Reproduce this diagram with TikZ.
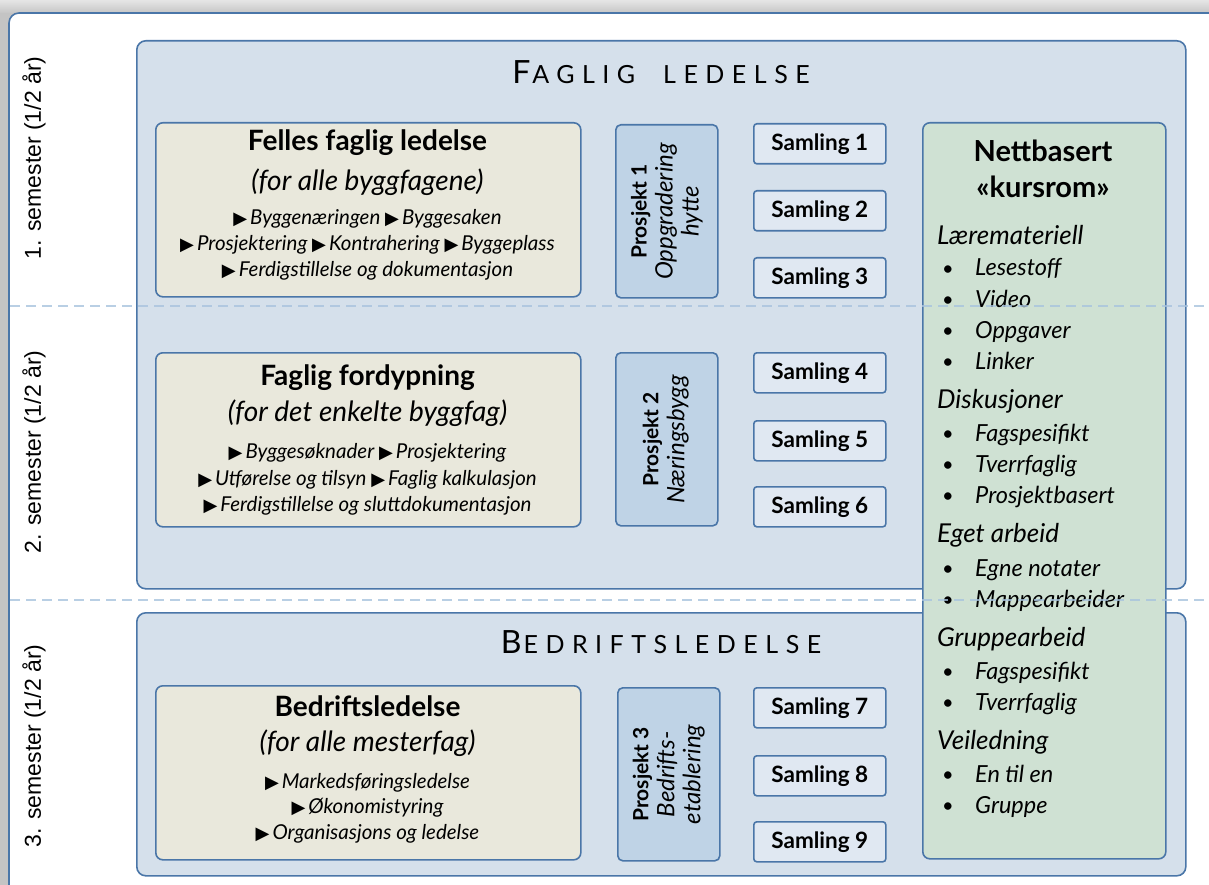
\documentclass[tikz,border=0pt]{standalone}
\usepackage{fontspec}
\setmainfont{Lato}
\newfontfamily\semfont{Liberation Sans}
\newfontfamily\symfont{DejaVu Sans}
\definecolor{bordblue}{HTML}{4A76A8}
\definecolor{bigfill}{HTML}{D5E0EB}
\definecolor{beigefill}{HTML}{E9E8DC}
\definecolor{projfill}{HTML}{BFD3E6}
\definecolor{samfill}{HTML}{E0E8F2}
\definecolor{netfill}{HTML}{CFE1D3}
\definecolor{dashblue}{HTML}{A8C3DE}
\definecolor{shadowgray}{HTML}{C4C4C4}
\newcommand\mytri{{\symfont\fontsize{18}{18}\selectfont ▶}\hspace{3pt}}
\newcommand\fsz[1]{\fontsize{#1}{#1}\selectfont}
\tikzset{
  box/.style={draw=bordblue, line width=1.6pt, inner sep=0pt, anchor=north west},
  bigbox/.style={box, fill=bigfill, rounded corners=9pt},
  beigebox/.style={box, fill=beigefill, rounded corners=7pt, minimum width=425pt, minimum height=174pt},
  projbox/.style={box, fill=projfill, rounded corners=5pt, minimum width=102pt, minimum height=173pt},
  sambox/.style={box, fill=samfill, rounded corners=3pt, minimum width=132pt, minimum height=40pt},
  netbox/.style={box, fill=netfill, rounded corners=7pt},
  semlabel/.style={rotate=90, font=\semfont\fsz{23}},
  btitle/.style={font=\bfseries\fsz{28}},
  bsub/.style={font=\itshape\fsz{28}},
  bitem/.style={font=\itshape\fsz{20.5}},
  samtext/.style={font=\bfseries\fsz{22.5}},
  projtext/.style={rotate=90, align=center, font=\fontsize{24}{26}\selectfont},
  nethead/.style={anchor=west, inner sep=0pt, font=\itshape\fsz{26}, text height=18pt, text depth=5pt},
  netitem/.style={anchor=west, inner sep=0pt, font=\itshape\fsz{23.5}, text height=17pt, text depth=5pt},
  netbul/.style={font=\fsz{20}, text height=14pt, text depth=4pt},
  sectitle/.style={font=\fsz{25}},
}
\begin{document}
\begin{tikzpicture}[x=1pt,y=-1pt]
\useasboundingbox (0,0) rectangle (1209,885);
% background shadow
\fill[shadowgray] (0,0) rectangle (1209,885);
\shade[top color=gray!20, bottom color=gray!45] (0,0) rectangle (1209,13);
\draw[bordblue, line width=1.6pt, fill=white, rounded corners=10pt] (9,13) rectangle (1240,920);

% semester labels
\node[semlabel] (sem1) at (34,158) {1. semester (1/2 år)};
\node[semlabel] (sem2) at (34,452) {2. semester (1/2 år)};
\node[semlabel] (sem3) at (34,746) {3. semester (1/2 år)};

% big section boxes
\node[bigbox, minimum width=1049pt, minimum height=548pt] (faglig) at (136,40) {};
\node[bigbox, minimum width=1049pt, minimum height=263pt] (bedrift) at (136,612) {};
\node[sectitle] (fagligtitle) at (661,72) {\addfontfeatures{LetterSpace=30}{\fsz{32}F}\hspace{2pt}AGLIG\hspace{14pt} LEDELSE};
\node[sectitle] (bedrifttitle) at (661,642) {\addfontfeatures{LetterSpace=30}{\fsz{32}B}\hspace{2pt}EDRIFTSLEDELSE};

% beige boxes
\node[beigebox] (felles) at (155,122) {};
\node[btitle] (fellest) at (367.5,143) {Felles faglig ledelse};
\node[bsub] (felless) at (367.5,182) {(for alle byggfagene)};
\node[bitem] (fellesi1) at (367.5,219) {\mytri Byggenæringen \mytri Byggesaken};
\node[bitem] (fellesi2) at (367.5,245) {\mytri Prosjektering \mytri Kontrahering \mytri Byggeplass};
\node[bitem] (fellesi3) at (367.5,271) {\mytri Ferdigstillelse og dokumentasjon};

\node[beigebox] (ford) at (155,352) {};
\node[btitle] (fordt) at (367.5,378) {Faglig fordypning};
\node[bsub] (fords) at (367.5,413) {(for det enkelte byggfag)};
\node[bitem] (fordi1) at (367.5,453) {\mytri Byggesøknader \mytri Prosjektering};
\node[bitem] (fordi2) at (367.5,480) {\mytri Utførelse og tilsyn \mytri Faglig kalkulasjon};
\node[bitem] (fordi3) at (367.5,506) {\mytri Ferdigstillelse og sluttdokumentasjon};

\node[beigebox] (bedr) at (155,685) {};
\node[btitle] (bedrt) at (367.5,706) {Bedriftsledelse};
\node[bsub] (bedrs) at (367.5,743) {(for alle mesterfag)};
\node[bitem] (bedri1) at (367.5,783) {\mytri Markedsføringsledelse};
\node[bitem] (bedri2) at (367.5,808) {\mytri Økonomistyring};
\node[bitem] (bedri3) at (367.5,834) {\mytri Organisasjons og ledelse};

% project boxes
\node[projbox] (p1) at (615,124) {};
\node[projtext] (p1t) at (p1.center) {{\fontsize{21}{26}\selectfont\bfseries Prosjekt 1}\\\textit{Oppgradering}\\\textit{hytte}};
\node[projbox] (p2) at (615,352) {};
\node[projtext] (p2t) at ([xshift=-1pt]p2.center) {{\fontsize{21}{26}\selectfont\bfseries Prosjekt 2}\\\textit{Næringsbygg}};
\node[projbox] (p3) at (617,687) {};
\node[projtext] (p3t) at (p3.center) {{\fontsize{21}{26}\selectfont\bfseries Prosjekt 3}\\\textit{Bedrifts-}\\\textit{etablering}};

% samling boxes
\foreach \n/\y in {1/123,2/190,3/257,4/352,5/420,6/486,7/687,8/755,9/821}{
  \node[sambox] (s\n) at (753,\y) {};
  \node[samtext] (s\n t) at (s\n.center) {Samling \n};
}

% nettbasert
\node[netbox, minimum width=243pt, minimum height=736pt] (net) at (922,122) {};
\node[font=\bfseries\fsz{29}] (nett1) at (1043,151) {Nettbasert};
\node[font=\bfseries\fsz{29}] (nett2) at (1043,187) {«kursrom»};
\foreach \t/\y in {Læremateriell/238, Diskusjoner/402, Eget arbeid/536, Gruppearbeid/640, Veiledning/743}{
  \node[nethead] at (937,\y) {\t};
}
\foreach \t/\y in {Lesestoff/270, Video/301, Oppgaver/332, Linker/363, Fagspesifikt/435, Tverrfaglig/466, Prosjektbasert/497, Egne notater/570, Mappearbeider/601, Fagspesifikt/673, Tverrfaglig/704, En til en/776, Gruppe/807}{
  \node[netbul] at (948,\y) {•};
  \node[netitem] at (975,\y) {\t};
}

% dashed semester dividers
\draw[dashblue, line width=1.5pt, dash pattern=on 10pt off 6pt, opacity=0.8] (10,306) -- (1209,306);
\draw[dashblue, line width=1.5pt, dash pattern=on 10pt off 6pt, opacity=0.8] (10,600) -- (1209,600);
\end{tikzpicture}
\end{document}
